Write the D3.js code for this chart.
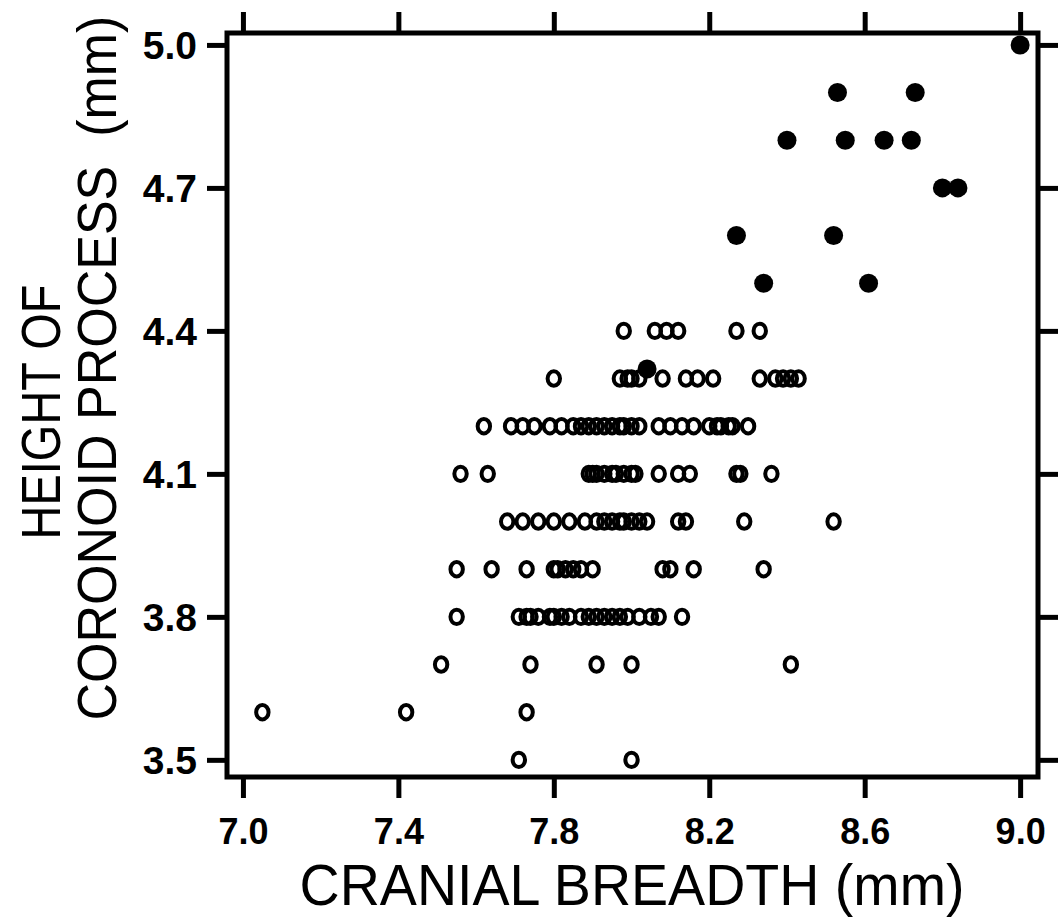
<!DOCTYPE html>
<html>
<head>
<meta charset="utf-8">
<script src="https://cdn.jsdelivr.net/npm/d3@7"></script>
<style>
  body { margin: 0; background: #fff; }
  svg { display: block; font-family: "Liberation Sans", Arial, sans-serif; }
</style>
</head>
<body>
<div id="canvas"></div>
<script>
// tick values
const xTicks = [7.0, 7.4, 7.8, 8.2, 8.6, 9.0];
const yTicks = [3.5, 3.8, 4.1, 4.4, 4.7, 5.0];

// open circles: cranial breadth / height of coronoid process, row by row
const openBreadth = [
  7.71, 8.00,
  7.05, 7.42, 7.73,
  7.51, 7.74, 7.91, 8.00, 8.41,
  7.55, 7.71, 7.73, 7.74, 7.76, 7.79, 7.80, 7.82, 7.84, 7.87, 7.89, 7.91, 7.93, 7.95, 7.97, 7.99, 8.02, 8.05, 8.07, 8.13,
  7.55, 7.64, 7.73, 7.80, 7.81, 7.83, 7.85, 7.87, 7.90, 8.08, 8.10, 8.16, 8.34,
  7.68, 7.72, 7.76, 7.80, 7.84, 7.88, 7.91, 7.93, 7.95, 7.97, 7.98, 8.00, 8.02, 8.04, 8.12, 8.14, 8.29, 8.52,
  7.56, 7.63, 7.89, 7.90, 7.91, 7.93, 7.95, 7.96, 7.98, 8.00, 8.01, 8.07, 8.12, 8.15, 8.27, 8.28, 8.36,
  7.62, 7.69, 7.72, 7.75, 7.79, 7.82, 7.85, 7.87, 7.89, 7.91, 7.93, 7.95, 7.97, 7.98, 8.00, 8.02, 8.07, 8.10, 8.13, 8.16, 8.20, 8.22, 8.23, 8.25, 8.26, 8.30,
  7.80, 7.97, 7.99, 8.00, 8.02, 8.08, 8.14, 8.17, 8.21, 8.33, 8.37, 8.39, 8.41, 8.43,
  7.98, 8.06, 8.09, 8.12, 8.27, 8.33
];
const openHeight = [
  3.5, 3.5,
  3.6, 3.6, 3.6,
  3.7, 3.7, 3.7, 3.7, 3.7,
  3.8, 3.8, 3.8, 3.8, 3.8, 3.8, 3.8, 3.8, 3.8, 3.8, 3.8, 3.8, 3.8, 3.8, 3.8, 3.8, 3.8, 3.8, 3.8, 3.8,
  3.9, 3.9, 3.9, 3.9, 3.9, 3.9, 3.9, 3.9, 3.9, 3.9, 3.9, 3.9, 3.9,
  4.0, 4.0, 4.0, 4.0, 4.0, 4.0, 4.0, 4.0, 4.0, 4.0, 4.0, 4.0, 4.0, 4.0, 4.0, 4.0, 4.0, 4.0,
  4.1, 4.1, 4.1, 4.1, 4.1, 4.1, 4.1, 4.1, 4.1, 4.1, 4.1, 4.1, 4.1, 4.1, 4.1, 4.1, 4.1,
  4.2, 4.2, 4.2, 4.2, 4.2, 4.2, 4.2, 4.2, 4.2, 4.2, 4.2, 4.2, 4.2, 4.2, 4.2, 4.2, 4.2, 4.2, 4.2, 4.2, 4.2, 4.2, 4.2, 4.2, 4.2, 4.2,
  4.3, 4.3, 4.3, 4.3, 4.3, 4.3, 4.3, 4.3, 4.3, 4.3, 4.3, 4.3, 4.3, 4.3,
  4.4, 4.4, 4.4, 4.4, 4.4, 4.4
];

// filled circles
const filledBreadth = [9.00, 8.53, 8.73, 8.40, 8.55, 8.65, 8.72, 8.80, 8.84, 8.27, 8.52, 8.34, 8.61, 8.04];
const filledHeight  = [5.0, 4.9, 4.9, 4.8, 4.8, 4.8, 4.8, 4.7, 4.7, 4.6, 4.6, 4.5, 4.5, 4.32];

const width = 1059;
const height = 917;
const frame = { left: 227, right: 1038, top: 33, bottom: 777 };

const svg = d3.select("#canvas").append("svg")
  .attr("width", width)
  .attr("height", height);

const x = d3.scaleLinear().domain([6.959, 9.046]).range([frame.left, frame.right]);
const y = d3.scaleLinear().domain([3.464, 5.025]).range([frame.bottom, frame.top]);

const fmt = d3.format(".1f");

function styleAxis(g) {
  g.select(".domain").remove();
  g.selectAll(".tick line").attr("stroke", "#000").attr("stroke-width", 5);
}

// bottom axis with labels
svg.append("g")
  .attr("transform", `translate(0,${frame.bottom})`)
  .call(d3.axisBottom(x).tickValues(xTicks).tickSize(21).tickFormat(fmt))
  .call(styleAxis)
  .call(g => g.selectAll("text")
    .attr("y", 67).attr("dy", 0)
    .attr("fill", "#000")
    .style("font-size", "36px").style("font-weight", "bold")
    .style("font-family", "'Liberation Sans', Arial, sans-serif"));

svg.append("g")
  .attr("transform", `translate(0,${frame.top})`)
  .call(d3.axisTop(x).tickValues(xTicks).tickSize(21).tickFormat(""))
  .call(styleAxis);

// left axis with labels
svg.append("g")
  .attr("transform", `translate(${frame.left},0)`)
  .call(d3.axisLeft(y).tickValues(yTicks).tickSize(20).tickFormat(fmt))
  .call(styleAxis)
  .call(g => g.selectAll("text")
    .attr("x", -30).attr("dy", "0.36em")
    .attr("fill", "#000")
    .style("font-size", "39px").style("font-weight", "bold")
    .style("font-family", "'Liberation Sans', Arial, sans-serif"));

svg.append("g")
  .attr("transform", `translate(${frame.right},0)`)
  .call(d3.axisRight(y).tickValues(yTicks).tickSize(20).tickFormat(""))
  .call(styleAxis);

// frame
svg.append("rect")
  .attr("x", frame.left).attr("y", frame.top)
  .attr("width", frame.right - frame.left)
  .attr("height", frame.bottom - frame.top)
  .attr("fill", "none").attr("stroke", "#000").attr("stroke-width", 5);

// points
const openData = openBreadth.map((b, i) => ({ b: b, h: openHeight[i] }));
const filledData = filledBreadth.map((b, i) => ({ b: b, h: filledHeight[i] }));

svg.append("g").selectAll("ellipse")
  .data(openData)
  .enter().append("ellipse")
  .attr("cx", d => x(d.b))
  .attr("cy", d => y(d.h))
  .attr("rx", 6.2)
  .attr("ry", 7.2)
  .attr("fill", "none")
  .attr("stroke", "#000")
  .attr("stroke-width", 4);

svg.append("g").selectAll("circle")
  .data(filledData)
  .enter().append("circle")
  .attr("cx", d => x(d.b))
  .attr("cy", d => y(d.h))
  .attr("r", 9.5)
  .attr("fill", "#000");

// axis titles, squeezed to the narrow width of the original lettering
function title(tx, ty, angle, size, len, str) {
  const t = svg.append("text")
    .attr("text-anchor", "middle")
    .style("font-size", size + "px")
    .style("white-space", "pre")
    .text(str);
  const k = len / t.node().getComputedTextLength();
  t.attr("transform", `translate(${tx},${ty}) rotate(${angle}) scale(${k},1)`);
}

title(632, 905, 0, 58, 665, "CRANIAL BREADTH (mm)");
title(60, 412, -90, 56, 255, "HEIGHT OF");
title(116, 368, -90, 56, 705, "CORONOID PROCESS  (mm)");
</script>
</body>
</html>
